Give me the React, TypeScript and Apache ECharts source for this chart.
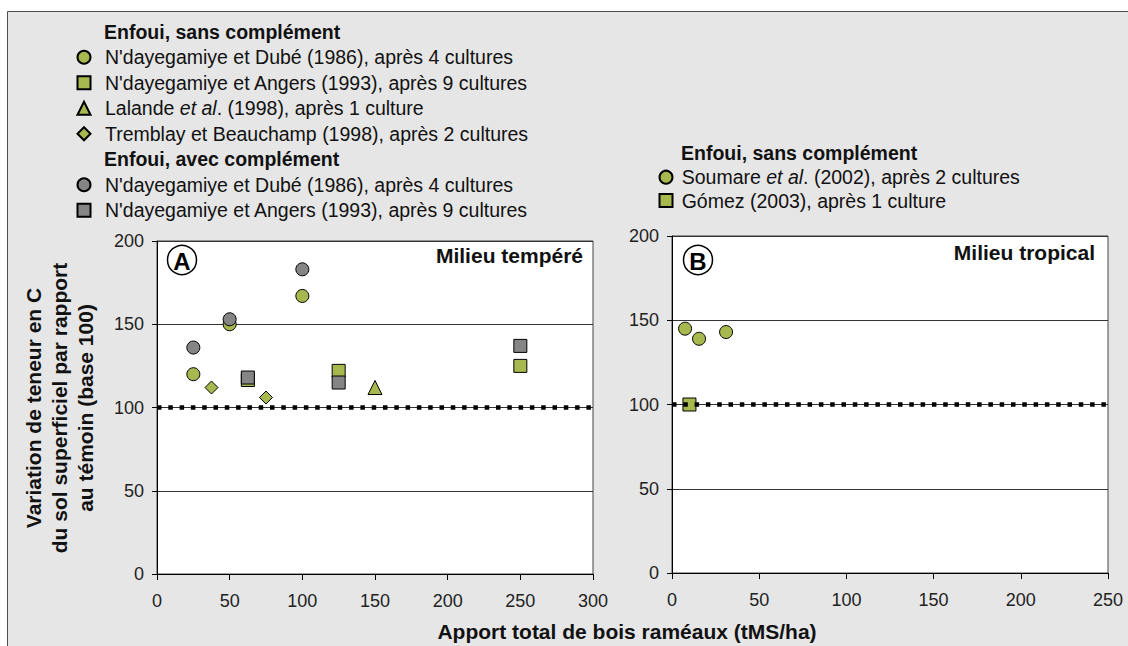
import React, { useEffect, useRef } from "react";
import * as echarts from "echarts";

// ---- Data ----
// Panel A : Milieu tempéré (x: tMS/ha, y: base 100)
const aSansDube = [[25, 120], [50, 150], [100, 167]];
const aSansAngers = [[62.5, 116.5], [125, 122], [250, 125]];
const aSansLalande = [[150, 112]];
const aSansTremblay = [[37.5, 112], [75, 106]];
const aAvecDube = [[25, 136], [50, 153], [100, 183]];
const aAvecAngers = [[62.5, 118], [125, 115], [250, 137]];
// Panel B : Milieu tropical
const bSoumare = [[7.5, 145], [15.5, 139], [31, 143]];
const bGomez = [[10, 100]];
// Reference line (base 100)
const refA = [[0, 100], [300, 100]];
const refB = [[0, 100], [250, 100]];

const xMaxA = 300;
const xMaxB = 250;
const yMax = 200;
const tickStep = 50;

const labels: Record<string, string> = {
  sDube: "N'dayegamiye et Dubé (1986), après 4 cultures",
  sAngers: "N'dayegamiye et Angers (1993), après 9 cultures",
  sLalande: "{n|Lalande }{i|et al}{n|. (1998), après 1 culture}",
  sTremblay: "Tremblay et Beauchamp (1998), après 2 cultures",
  aDube: "N'dayegamiye et Dubé (1986), après 4 cultures",
  aAngers: "N'dayegamiye et Angers (1993), après 9 cultures",
  bSoumare: "{n|Soumare }{i|et al}{n|. (2002), après 2 cultures}",
  bGomez: "Gómez (2003), après 1 culture",
};

const FONT = "'Liberation Sans', Arial, Helvetica, sans-serif";
const GREEN = "#a7b84f";
const GRAY = "#858585";
const TXT = "#111";
const LEG_FS = 19.5;

export default function App() {
  const ref = useRef<HTMLDivElement>(null);

  useEffect(() => {
    if (!ref.current) return;
    const chart = echarts.init(ref.current, undefined, { renderer: "svg" });

    const axisX = (gridIndex: number, max: number) => ({
      type: "value",
      gridIndex,
      min: 0,
      max,
      interval: tickStep,
      axisLine: { show: true, onZero: false, lineStyle: { color: "#000", width: 1 } },
      axisTick: { show: true, inside: false, length: 6, lineStyle: { color: "#000" } },
      axisLabel: { fontSize: 18, color: "#222", fontFamily: FONT, margin: 18 },
      splitLine: { show: false },
    });
    const axisY = (gridIndex: number) => ({
      type: "value",
      gridIndex,
      min: 0,
      max: yMax,
      interval: tickStep,
      axisLine: { show: true, onZero: false, lineStyle: { color: "#000", width: 1 } },
      axisTick: { show: true, inside: false, length: 5, lineStyle: { color: "#000" } },
      axisLabel: { fontSize: 18, color: "#222", fontFamily: FONT, margin: 13 },
      splitLine: { show: true, lineStyle: { color: "#333", width: 1 } },
    });

    const scat = (
      name: string,
      data: number[][],
      symbol: string,
      size: number,
      color: string,
      idx: number,
      z = 3
    ) => ({
      name,
      type: "scatter",
      xAxisIndex: idx,
      yAxisIndex: idx,
      data,
      symbol,
      symbolSize: size,
      z,
      itemStyle: { color, borderColor: "#000", borderWidth: 1, opacity: 1 },
      emphasis: { disabled: true },
    });

    const refLine = (data: number[][], idx: number) => ({
      name: "ref" + idx,
      type: "line",
      xAxisIndex: idx,
      yAxisIndex: idx,
      data,
      symbol: "none",
      z: 6,
      silent: true,
      lineStyle: { color: "#000", width: 4.5, type: [4.5, 6.8], cap: "butt" },
    });

    const mkRich = (lh: number) => ({
      n: { fontSize: LEG_FS, fontFamily: FONT, color: TXT, lineHeight: lh },
      i: { fontSize: LEG_FS, fontFamily: FONT, color: TXT, fontStyle: "italic", lineHeight: lh },
    });
    const legendBase = (lh: number, padLeft: number) => ({
      orient: "vertical",
      itemWidth: 13,
      itemHeight: 13,
      itemGap: 0,
      selectedMode: false,
      padding: 0,
      formatter: (n: string) => labels[n] || n,
      textStyle: {
        fontSize: LEG_FS,
        fontFamily: FONT,
        color: TXT,
        lineHeight: lh,
        padding: [0, 0, 0, padLeft],
        rich: mkRich(lh),
      },
    });

    const circled = (cx: number, cy: number, letter: string) => ({
      type: "group",
      z: 100,
      children: [
        {
          type: "circle",
          shape: { cx, cy, r: 14.5 },
          style: { fill: "#fff", stroke: "#000", lineWidth: 1.5 },
        },
        {
          type: "text",
          x: cx,
          y: cy + 1,
          style: {
            text: letter,
            fontSize: 24,
            fontWeight: "bold",
            fontFamily: FONT,
            fill: "#000",
            align: "center",
            verticalAlign: "middle",
          },
        },
      ],
    });

    const boldText = (x: number, y: number, text: string, align = "left", size = LEG_FS) => ({
      type: "text",
      x,
      y,
      z: 100,
      style: {
        text,
        fontSize: size,
        fontWeight: "bold",
        fontFamily: FONT,
        fill: TXT,
        align,
        verticalAlign: "middle",
      },
    });

    chart.setOption({
      animation: false,
      backgroundColor: "#fff",
      grid: [
        { left: 157, top: 241, width: 436, height: 333, show: true, backgroundColor: "#fff", borderColor: "#444", borderWidth: 1, containLabel: false },
        { left: 672, top: 236, width: 436, height: 337, show: true, backgroundColor: "#fff", borderColor: "#444", borderWidth: 1, containLabel: false },
      ],
      xAxis: [axisX(0, xMaxA), axisX(1, xMaxB)],
      yAxis: [axisY(0), axisY(1)],
      legend: [
        { ...legendBase(25.5, 9.5), left: 76.5, top: 44.5, data: ["sDube", "sAngers", "sLalande", "sTremblay"] },
        { ...legendBase(25.5, 9.5), left: 76.5, top: 172, data: ["aDube", "aAngers"] },
        { ...legendBase(23.4, 4.2), left: 658.5, top: 165.5, data: ["bSoumare", "bGomez"] },
      ],
      series: [
        scat("sDube", aSansDube, "circle", 13, GREEN, 0, 3),
        scat("sAngers", aSansAngers, "rect", 13, GREEN, 0, 3),
        scat("sLalande", aSansLalande, "triangle", 14, GREEN, 0, 3),
        scat("sTremblay", aSansTremblay, "diamond", 13, GREEN, 0, 3),
        scat("aDube", aAvecDube, "circle", 13, GRAY, 0, 4),
        scat("aAngers", aAvecAngers, "rect", 13, GRAY, 0, 4),
        scat("bSoumare", bSoumare, "circle", 13, GREEN, 1, 3),
        scat("bGomez", bGomez, "rect", 13, GREEN, 1, 3),
        refLine(refA, 0),
        refLine(refB, 1),
      ],
      graphic: [
        {
          type: "rect",
          z: -100,
          shape: { x: 7.5, y: 11.5, width: 1200, height: 700 },
          style: { fill: "#e6e6e6", stroke: "#4d4d4d", lineWidth: 1 },
        },
        boldText(104, 32, "Enfoui, sans complément"),
        boldText(104, 159, "Enfoui, avec complément"),
        boldText(681, 153, "Enfoui, sans complément"),
        circled(182, 260, "A"),
        circled(698, 260, "B"),
        boldText(583, 255, "Milieu tempéré", "right", 21),
        boldText(1095, 252, "Milieu tropical", "right", 21),
        {
          type: "text",
          x: 59,
          y: 408,
          rotation: Math.PI / 2,
          z: 100,
          style: {
            text: "Variation de teneur en C\ndu sol superficiel par rapport\nau témoin (base 100)",
            fontSize: 21,
            fontWeight: "bold",
            fontFamily: FONT,
            fill: TXT,
            align: "center",
            verticalAlign: "middle",
            lineHeight: 26,
          },
        },
        {
          type: "text",
          x: 627,
          y: 631,
          z: 100,
          style: {
            text: "Apport total de bois raméaux (tMS/ha)",
            fontSize: 21,
            fontWeight: "bold",
            fontFamily: FONT,
            fill: TXT,
            align: "center",
            verticalAlign: "middle",
          },
        },
      ],
    });

    return () => chart.dispose();
  }, []);

  return (
    <div
      ref={ref}
      style={{ position: "fixed", left: 0, top: 0, width: 1128, height: 646 }}
    />
  );
}
